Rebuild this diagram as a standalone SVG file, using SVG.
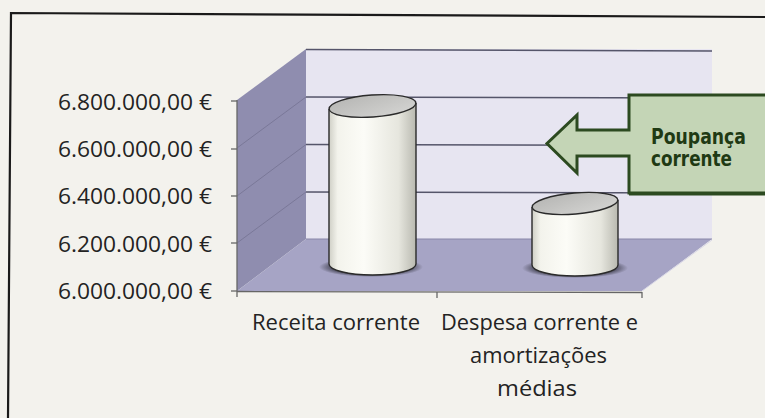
<svg xmlns="http://www.w3.org/2000/svg" width="765" height="418" viewBox="0 0 765 418">
<defs>
<style>
.lbl{font-family:"Open Sans","Noto Sans","Liberation Sans",sans-serif;font-size:21.5px;fill:#232323}
.ax{stroke:#666;stroke-width:1.3;fill:none}
.grid{stroke:#55556a;stroke-width:1.5}
.sgrid{stroke:#7a7898;stroke-width:1}
.cyl{stroke:#2a2a2a;stroke-width:1.4}
.call{font-family:"DejaVu Sans","Verdana",sans-serif;font-weight:bold;font-size:21px;fill:#1f3a14}
</style>
<linearGradient id="body" x1="0" y1="0" x2="1" y2="0">
<stop offset="0" stop-color="#cfcfc6"/>
<stop offset="0.1" stop-color="#f3f3ec"/>
<stop offset="0.4" stop-color="#fcfcf7"/>
<stop offset="0.8" stop-color="#e6e6de"/>
<stop offset="1" stop-color="#b9b9b0"/>
</linearGradient>
<linearGradient id="top" x1="0" y1="0" x2="1" y2="1">
<stop offset="0" stop-color="#b4b4b2"/>
<stop offset="1" stop-color="#d6d6d4"/>
</linearGradient>
<radialGradient id="shadow" cx="0.5" cy="0.5" r="0.5">
<stop offset="0.6" stop-color="#1c1c24"/>
<stop offset="1" stop-color="#1c1c24" stop-opacity="0"/>
</radialGradient>
</defs>
<rect width="765" height="418" fill="#f3f2ed"/>
<path d="M765,17 L11,13 L8,418" fill="none" stroke="#1a1a1a" stroke-width="2.2"/>

<g id="chart">
<rect x="306" y="49" width="406" height="190" fill="#e7e5f1"/>
<g class="grid">
<line x1="306" y1="49.5" x2="712" y2="51"/>
<line x1="306" y1="97" x2="712" y2="98"/>
<line x1="306" y1="144.5" x2="712" y2="145.5"/>
<line x1="306" y1="192" x2="712" y2="193"/>
</g>
<polygon points="237,100 306,49 306,239 237,291" fill="#8f8daf"/>
<g class="sgrid">
<line x1="237" y1="148" x2="306" y2="97"/>
<line x1="237" y1="196" x2="306" y2="144.5"/>
<line x1="237" y1="243" x2="306" y2="192"/>
</g>
<polygon points="237,291 306,239 712,239 642,291" fill="#a6a4c5"/>
<line x1="306" y1="239" x2="712" y2="239" stroke="#8886a8" stroke-width="1"/>
<line x1="642" y1="291" x2="712" y2="240" stroke="#d8d7e6" stroke-width="1"/>
<g class="ax">
<line x1="237" y1="100" x2="237" y2="297"/>
<line x1="237" y1="291.5" x2="642" y2="292.5"/>
<line x1="231" y1="101" x2="237" y2="101"/>
<line x1="231" y1="149" x2="237" y2="149"/>
<line x1="231" y1="196" x2="237" y2="196"/>
<line x1="231" y1="243" x2="237" y2="243"/>
<line x1="231" y1="291" x2="237" y2="291"/>
<line x1="437" y1="292" x2="437" y2="298"/>
<line x1="642" y1="292" x2="642" y2="298"/>
</g>
<g text-anchor="end" class="lbl">
<text x="212" y="110" textLength="154" lengthAdjust="spacingAndGlyphs">6.800.000,00 €</text>
<text x="212" y="157" textLength="154" lengthAdjust="spacingAndGlyphs">6.600.000,00 €</text>
<text x="212" y="204" textLength="154" lengthAdjust="spacingAndGlyphs">6.400.000,00 €</text>
<text x="212" y="252" textLength="154" lengthAdjust="spacingAndGlyphs">6.200.000,00 €</text>
<text x="212" y="299" textLength="154" lengthAdjust="spacingAndGlyphs">6.000.000,00 €</text>
</g>
<g text-anchor="middle" class="lbl">
<text x="336" y="330" textLength="168" lengthAdjust="spacingAndGlyphs">Receita corrente</text>
<text x="539.5" y="330" textLength="197" lengthAdjust="spacingAndGlyphs">Despesa corrente e</text>
<text x="538.5" y="363" textLength="137" lengthAdjust="spacingAndGlyphs">amortizações</text>
<text x="537" y="396" textLength="80" lengthAdjust="spacingAndGlyphs">médias</text>
</g>
</g>

<g id="bar-receita">
<ellipse cx="371" cy="267" rx="52" ry="10" fill="url(#shadow)"/>
<path class="cyl" d="M329,109 L329,264 A43.5,11 0 0 0 416,264 L416,103" fill="url(#body)"/>
<ellipse class="cyl" cx="372.5" cy="106" rx="43.5" ry="11" transform="rotate(-4 372.5 106)" fill="url(#top)"/>
</g>

<g id="bar-despesa">
<ellipse cx="575" cy="268" rx="53" ry="10" fill="url(#shadow)"/>
<path class="cyl" d="M532,207 L532,265 A43,11 0 0 0 618,265 L618,200" fill="url(#body)"/>
<ellipse class="cyl" cx="575" cy="203.5" rx="43" ry="10.5" transform="rotate(-5 575 203.5)" fill="url(#top)"/>
</g>

<g id="callout">
<path d="M767,95 L629,95 L629,130 L577,130 L577,115 L547,143.5 L577,173 L577,156 L629,156 L629,193 L767,193" fill="#c4d5b6" stroke="#2c4a20" stroke-width="3" stroke-linejoin="miter"/>
<line x1="629" y1="194" x2="767" y2="194" stroke="#2c4a20" stroke-width="3"/>
<text class="call" x="651" y="144" textLength="95" lengthAdjust="spacingAndGlyphs">Poupança</text>
<text class="call" x="651" y="166" textLength="81" lengthAdjust="spacingAndGlyphs">corrente</text>
</g>
<g id="connectors"/>
</svg>
